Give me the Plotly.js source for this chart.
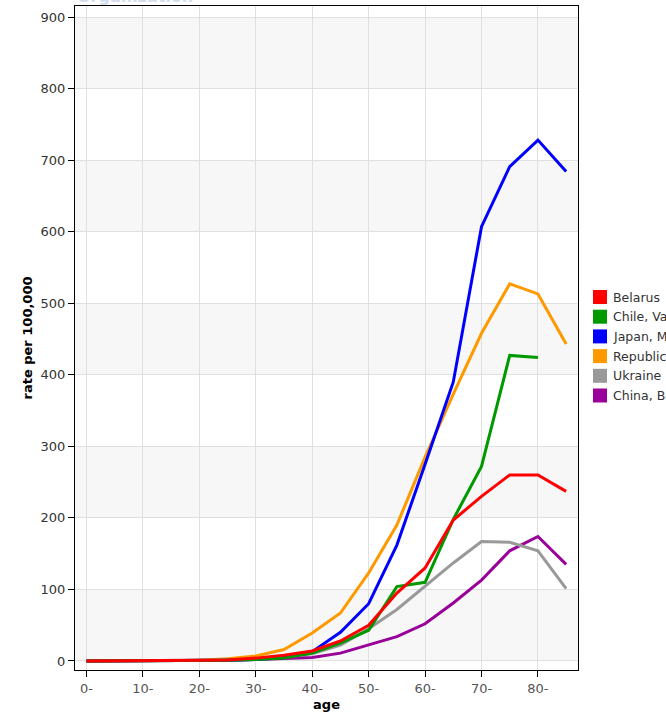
<!DOCTYPE html>
<html>
<head>
<meta charset="utf-8">
<script src="https://cdn.plot.ly/plotly-3.0.1.min.js"></script>
<style>
  html, body { margin: 0; padding: 0; background: #fff; overflow: hidden; }
  #chart { width: 666px; height: 712px; }
</style>
</head>
<body>
<div id="chart"></div>
<script>
// Age groups (start of each 5-year band) and the tick labels shown every 10 years
const ages = [0, 5, 10, 15, 20, 25, 30, 35, 40, 45, 50, 55, 60, 65, 70, 75, 80, 85];
const tickVals = [0, 10, 20, 30, 40, 50, 60, 70, 80];
const tickLabels = ["0-", "10-", "20-", "30-", "40-", "50-", "60-", "70-", "80-"];

// Rates per 100,000 by age group
const belarus = [0, 0, 0, 0.5, 1, 1.5, 4, 8, 14, 28, 50, 95, 130, 197, 230, 260, 260, 237];
const chile   = [0, 0, 0, 0, 0.5, 1, 2, 4, 11, 25, 43, 104, 110, 198, 272, 427, 424, null];
const japan   = [0, 0, 0, 0.5, 1, 1, 2, 5, 13, 40, 80, 162, 275, 390, 607, 691, 728, 684];
const korea   = [0, 0, 0, 0.5, 1, 3, 7, 16, 39, 67, 123, 190, 285, 373, 458, 527, 513, 443];
const ukraine = [0, 0, 0, 0.5, 1, 1.5, 3, 6, 10, 22, 45, 72, 105, 137, 167, 166, 154, 101];
const china   = [0, 0, 0, 0.2, 0.5, 1, 2, 3, 5, 11, 22, 34, 52, 81, 113, 154, 174, 135];

const seriesNames = ["Belarus", "Chile, Valdivia", "Japan, Miyagi", "Republic of Korea", "Ukraine", "China, Beijing"];
const seriesValues = [belarus, chile, japan, korea, ukraine, china];
const seriesColors = ["#ff0000", "#009900", "#0000ff", "#ff9900", "#999999", "#990099"];

// Shaded horizontal bands (lower edge of each band, 100 units tall)
const bandStarts = [0, 200, 400, 600, 800];
const yTicks = [0, 100, 200, 300, 400, 500, 600, 700, 800, 900];

// Plot-area geometry in pixels
const W = 666, H = 712;
const M = { l: 75, r: 88, t: 6, b: 42 };
const plotW = W - M.l - M.r, plotH = H - M.t - M.b;
const px2x = px => (px - M.l) / plotW;
const py2y = py => (H - M.b - py) / plotH;

// Lines are drawn in reverse so the first series sits on top
const traces = [];
for (let i = seriesNames.length - 1; i >= 0; i--) {
  traces.push({
    x: ages,
    y: seriesValues[i],
    type: "scatter",
    mode: "lines",
    name: seriesNames[i],
    line: { color: seriesColors[i], width: 3 },
    connectgaps: false,
    showlegend: false,
    hoverinfo: "x+y+name"
  });
}

const shapes = bandStarts.map(b => ({
  type: "rect", layer: "below",
  xref: "paper", x0: 0, x1: 1,
  yref: "y", y0: b, y1: b + 100,
  fillcolor: "#f7f7f7", line: { width: 0 }
}));

const annotations = [{
  text: "Organization",
  xref: "paper", yref: "paper",
  x: px2x(75), y: py2y(8),
  xanchor: "left", yanchor: "bottom",
  showarrow: false,
  font: { family: "DejaVu Sans", size: 16, color: "#d2def0", weight: "bold" }
}];

// Legend: coloured squares with series names beside the plot
const legTop = 297, legStep = 19.7;
seriesNames.forEach((name, i) => {
  const cy = legTop + i * legStep;
  shapes.push({
    type: "rect", xref: "paper", yref: "paper",
    x0: px2x(593), x1: px2x(607),
    y0: py2y(cy + 7), y1: py2y(cy - 7),
    fillcolor: seriesColors[i], line: { width: 0 }
  });
  annotations.push({
    text: name,
    xref: "paper", yref: "paper",
    x: px2x(611), y: py2y(cy),
    xanchor: "left", yanchor: "middle",
    showarrow: false,
    font: { family: "DejaVu Sans", size: 12.5, color: "#333333" }
  });
});

const layout = {
  width: W, height: H,
  margin: M,
  paper_bgcolor: "#ffffff",
  plot_bgcolor: "#ffffff",
  showlegend: false,
  font: { family: "DejaVu Sans", color: "#444444" },
  xaxis: {
    range: [-2.04, 87.1],
    tickvals: tickVals,
    ticktext: tickLabels,
    ticks: "outside", ticklen: 6, tickcolor: "#000000", tickwidth: 1,
    showline: true, linecolor: "#000000", linewidth: 1, mirror: true,
    showgrid: true, gridcolor: "#e0e0e0", gridwidth: 1,
    zeroline: false,
    tickfont: { family: "DejaVu Sans", size: 13, color: "#555555" },
    title: { text: "age", font: { family: "DejaVu Sans", size: 13, color: "#000000", weight: "bold" }, standoff: 8 }
  },
  yaxis: {
    range: [-12.6, 915.4],
    tickvals: yTicks,
    ticks: "outside", ticklen: 6, tickcolor: "#000000", tickwidth: 1,
    showline: true, linecolor: "#000000", linewidth: 1, mirror: true,
    showgrid: true, gridcolor: "#e0e0e0", gridwidth: 1,
    zeroline: false,
    tickfont: { family: "DejaVu Sans", size: 13, color: "#333333" },
    title: { text: "rate per 100,000", font: { family: "DejaVu Sans", size: 13, color: "#000000", weight: "bold" }, standoff: 5 }
  },
  shapes: shapes,
  annotations: annotations
};

Plotly.newPlot("chart", traces, layout, { staticPlot: true, displayModeBar: false });
</script>
</body>
</html>
